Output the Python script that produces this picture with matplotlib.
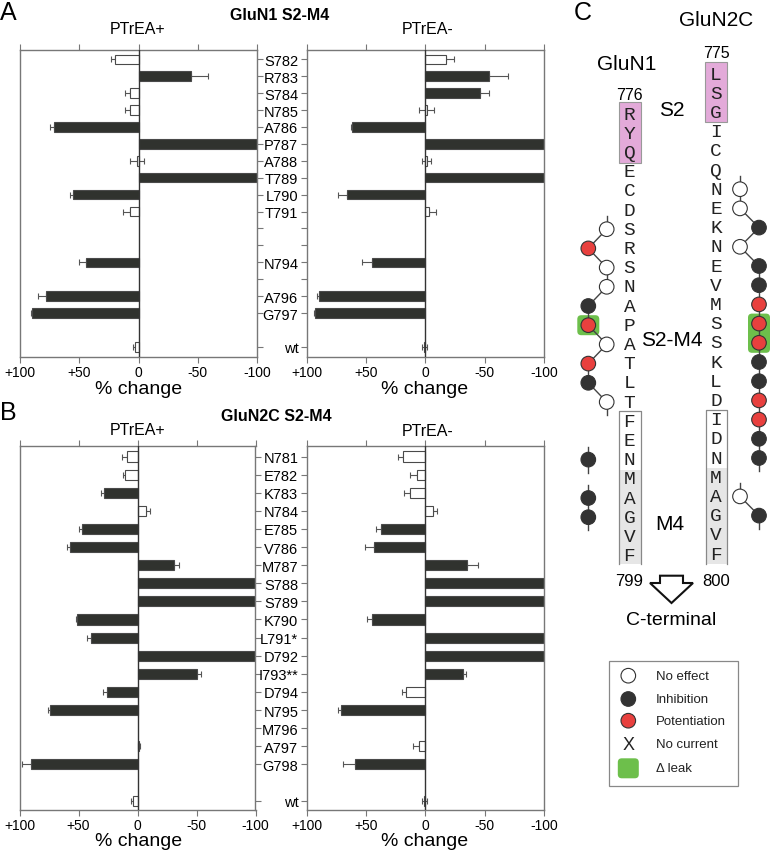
import numpy as np
import matplotlib
matplotlib.use('Agg')
import matplotlib.pyplot as plt
from matplotlib.patches import Circle, Rectangle, FancyBboxPatch, Polygon

plt.rcParams['font.family'] = ['Liberation Sans', 'DejaVu Sans']

W, H = 770, 853
nan = np.nan

# ---------------- data ----------------
xtick_vals = [100, 50, 0, -50, -100]
xtick_labels = ['+100', '+50', '0', '-50', '-100']

# Panel A : GluN1 S2-M4
a_labels = ['S782', 'R783', 'S784', 'N785', 'A786', 'P787', 'A788', 'T789', 'L790',
            'T791', '', '', 'N794', '', 'A796', 'G797', 'wt']
a_plus = [20, -44, 7, 7, 71, -100, 1, -100, 55, 7, nan, nan, 44, nan, 78, 90, 3]
a_plus_err = [3, 15, 4, 4, 3.5, 0, 6, 0, 3, 6, nan, nan, 6, nan, 7, 1, 2]
a_plus_sig = [0, 1, 0, 0, 1, 1, 0, 1, 1, 0, 0, 0, 1, 0, 1, 1, 0]
a_minus = [-17, -54, -46, -1, 62, -100, -1, -100, 66, -3, nan, nan, 45, nan, 90, 93, 1]
a_minus_err = [7, 16, 8, 6, 1, 0, 4, 0, 8, 6, nan, nan, 8, nan, 1, 1, 2]
a_minus_sig = [0, 1, 1, 0, 1, 1, 0, 1, 1, 0, 0, 0, 1, 0, 1, 1, 0]

# Panel B : GluN2C S2-M4
b_labels = ['N781', 'E782', 'K783', 'N784', 'E785', 'V786', 'M787', 'S788', 'S789',
            'K790', 'L791*', 'D792', 'I793**', 'D794', 'N795', 'M796', 'A797', 'G798', 'wt']
b_plus = [9, 11, 28, -7, 47, 57, -31, -100, -100, 51, 39, -100, -50, 26, 74, nan, -1, 90, 3.5]
b_plus_err = [4, 1.5, 3, 3.5, 3, 3, 4, 0, 0, 1, 4, 0, 4, 3, 1.5, nan, 1, 8, 2]
b_plus_sig = [0, 0, 1, 0, 1, 1, 1, 1, 1, 1, 1, 1, 1, 1, 1, 0, 0, 1, 0]
b_minus = [19, 7, 13, -6.5, 37, 43, -35, -100, -100, 45, -100, -100, -32, 16, 71.5, nan, 5, 59, 1]
b_minus_err = [4, 6, 5, 3, 5, 8, 9, 0, 0, 4, 0, 0, 2, 4, 2, nan, 5, 10, 2]
b_minus_sig = [0, 0, 0, 0, 1, 1, 1, 1, 1, 1, 1, 1, 1, 0, 1, 0, 0, 1, 0]

# Panel C : sequences and effects
n1_seq = "RYQECDSRSNAPATLTFENMAGVF"
n1_start = 776
n2_seq = "LSGICQNEKNEVMSSKLDIDNMAGVF"
n2_start = 775
n1_res = list(range(782, 798))
n1_eff = ['none', 'pot', 'none', 'none', 'inh', 'pot', 'none', 'pot', 'inh', 'none',
          '', '', 'inh', '', 'inh', 'inh']
n1_leak = [787]
n2_res = list(range(781, 799))
n2_eff = ['none', 'none', 'inh', 'none', 'inh', 'inh', 'pot', 'pot', 'pot', 'inh', 'inh',
          'pot', 'pot', 'inh', 'inh', '', 'none', 'inh']
n2_leak = [788, 789]
legend_items = ['No effect', 'Inhibition', 'Potentiation', 'No current', '\u0394 leak']

# ---------------- styles ----------------
DARK = '#30322e'
SPINE = '#777777'
RED = '#e8403e'
BLK = '#333333'
GREEN = '#6dbf4b'
PINK = '#e3aad9'

fig = plt.figure(figsize=(W / 100, H / 100), dpi=100)


def rect(x0, y0, x1, y1):
    return [x0 / W, 1 - y1 / H, (x1 - x0) / W, (y1 - y0) / H]


def ftext(x, y, s, **kw):
    kw.setdefault('ha', 'center')
    kw.setdefault('va', 'center')
    fig.text(x / W, 1 - y / H, s, **kw)


def bar_axes(r, pos, ylim, labels, vals, errs, sig, side):
    ax = fig.add_axes(r)
    for p, v, e, s in zip(pos, vals, errs, sig):
        if np.isnan(v):
            continue
        ax.barh(p, v, height=0.56, color=DARK if s else 'white',
                edgecolor='#4a4a4a', linewidth=0.8, zorder=2)
        if e > 0:
            if abs(v) < 3:
                xe = [[e], [e]]
            elif v > 0:
                xe = [[0], [e]]
            else:
                xe = [[e], [0]]
            ax.errorbar(v, p, xerr=xe, fmt='none', ecolor='#555555', elinewidth=0.8,
                        capsize=2, capthick=0.8, zorder=1)
    ax.set_xlim(100, -100)
    ax.set_ylim(*ylim)
    ax.set_xticks(xtick_vals)
    ax.set_xticklabels(xtick_labels, fontsize=10)
    ax.tick_params(axis='x', top=True, bottom=True, direction='out', length=4,
                   width=0.8, color=SPINE, pad=2)
    ax.set_yticks(pos)
    if side == 'right':
        ax.yaxis.tick_right()
        ax.set_yticklabels([])
    else:
        ax.set_yticklabels(labels, fontsize=10.5)
    ax.tick_params(axis='y', direction='out', length=4, width=0.8, color=SPINE, pad=2)
    for sp in ax.spines.values():
        sp.set_color(SPINE)
        sp.set_linewidth(1)
    ax.axvline(0, color='#333333', lw=1, zorder=3)
    return ax


a_pos = list(range(16)) + [17]
b_pos = list(range(18)) + [19]
a_ylim = (17.6, -0.55)
b_ylim = (19.52, -0.58)

bar_axes(rect(20, 51, 257, 358), a_pos, a_ylim, a_labels, a_plus, a_plus_err, a_plus_sig, 'right')
bar_axes(rect(306.7, 51, 544, 358), a_pos, a_ylim, a_labels, a_minus, a_minus_err, a_minus_sig, 'left')
bar_axes(rect(19.5, 447, 255.5, 811), b_pos, b_ylim, b_labels, b_plus, b_plus_err, b_plus_sig, 'right')
bar_axes(rect(306.7, 447, 544, 811), b_pos, b_ylim, b_labels, b_minus, b_minus_err, b_minus_sig, 'left')

# texts for panels A, B
ftext(8, 13, 'A', fontsize=18)
ftext(8, 413, 'B', fontsize=18)
ftext(280, 16, 'GluN1 S2-M4', fontsize=11.5, fontweight='bold')
ftext(276, 417, 'GluN2C S2-M4', fontsize=11.5, fontweight='bold')
ftext(138, 30, 'PTrEA+', fontsize=11.5)
ftext(428, 30, 'PTrEA-', fontsize=11.5)
ftext(138, 431, 'PTrEA+', fontsize=11.5)
ftext(428, 432, 'PTrEA-', fontsize=11.5)
for xc in (139, 425):
    ftext(xc, 394, '% change', fontsize=14, va='baseline')
    ftext(xc, 846, '% change', fontsize=14, va='baseline')

# ---------------- panel C ----------------
axc = fig.add_axes(rect(560, 0, 770, 853))
axc.set_xlim(560, 770)
axc.set_ylim(853, 0)
axc.axis('off')

STEP = 19.2
n1_x, n2_x = 629.5, 716
n1_y0, n2_y0 = 115, 75


def n1_y(r):
    return n1_y0 + STEP * (r - n1_start)


def n2_y(r):
    return n2_y0 + STEP * (r - n2_start)


# pink S2 boxes
axc.add_patch(Rectangle((619.3, 103.3), 21.4, 60.7, facecolor=PINK, edgecolor='#999999', lw=0.8, zorder=1))
axc.add_patch(Rectangle((705.2, 63.3), 21.4, 59.4, facecolor=PINK, edgecolor='#999999', lw=0.8, zorder=1))
# M4 boxes
for x0, ytop, yfill in ((619.3, 412, 470.5), (705.7, 411, 469)):
    axc.add_patch(Rectangle((x0, yfill), 21.4, 565 - yfill, facecolor='#e6e6e6', edgecolor='none', zorder=1))
    axc.plot([x0, x0, x0 + 21.4, x0 + 21.4], [565, ytop, ytop, 565], color='#888888', lw=0.9, zorder=1.5)

for i, ch in enumerate(n1_seq):
    axc.text(n1_x, n1_y(n1_start + i), ch, family='Liberation Mono', fontsize=14,
             ha='center', va='center', color='#222222', zorder=2)
for i, ch in enumerate(n2_seq):
    axc.text(n2_x, n2_y(n2_start + i), ch, family='Liberation Mono', fontsize=14,
             ha='center', va='center', color='#222222', zorder=2)

FACE = {'none': 'white', 'inh': BLK, 'pot': RED}
R = 7.3
STICK = 13


def draw_chain(res, eff, leak, yfun, x_none, x_eff):
    pts = {}
    for r, e in zip(res, eff):
        if e:
            pts[r] = (x_none if e == 'none' else x_eff, yfun(r), e)
    # leak highlights (group consecutive)
    lk = sorted(leak)
    groups = []
    for r in lk:
        if groups and r == groups[-1][-1] + 1:
            groups[-1].append(r)
        else:
            groups.append([r])
    for g in groups:
        x = pts[g[0]][0]
        y0, y1 = yfun(g[0]) - 10, yfun(g[-1]) + 10
        axc.add_patch(FancyBboxPatch((x - 11, y0), 22, y1 - y0,
                                     boxstyle='round,pad=0,rounding_size=4',
                                     facecolor=GREEN, edgecolor='none', zorder=1))
    for r, (x, y, e) in pts.items():
        if r + 1 in pts:
            x2, y2, _ = pts[r + 1]
            axc.plot([x, x2], [y, y2], color='#444444', lw=1, zorder=2)
        else:
            axc.plot([x, x], [y, y + STICK], color='#444444', lw=1, zorder=2)
        if r - 1 not in pts:
            axc.plot([x, x], [y, y - STICK], color='#444444', lw=1, zorder=2)
        axc.add_patch(Circle((x, y), R, facecolor=FACE[e], edgecolor='#333333', lw=0.8, zorder=3))


draw_chain(n1_res, n1_eff, n1_leak, n1_y, 606.7, 588.3)
draw_chain(n2_res, n2_eff, n2_leak, n2_y, 740, 759)

ftext(583, 13, 'C', fontsize=18)
ftext(715.7, 21, 'GluN2C', fontsize=15)
ftext(626.7, 65, 'GluN1', fontsize=15)
ftext(716.7, 53.5, '775', fontsize=11.5)
ftext(629.5, 95, '776', fontsize=11.5)
ftext(672, 111, 'S2', fontsize=15)
ftext(672, 341, 'S2-M4', fontsize=15)
ftext(670, 525, 'M4', fontsize=15)
ftext(629.5, 581, '799', fontsize=12)
ftext(716, 581, '800', fontsize=12)
ftext(670.7, 621, 'C-terminal', fontsize=14)

# arrow
axc.add_patch(Polygon([(660, 576.7), (683, 576.7), (683, 584), (693, 584), (671.5, 604),
                       (650, 584), (660, 584)], closed=True, facecolor='white',
                      edgecolor='#111111', lw=1.5, zorder=2))

# legend
axc.add_patch(Rectangle((609.3, 661.7), 129, 125, facecolor='white', edgecolor='#888888', lw=0.9, zorder=1))
ly = [676.7, 700, 721.7, 745, 769.3]
axc.add_patch(Circle((628.3, ly[0]), R, facecolor='white', edgecolor='#333333', lw=0.8, zorder=3))
axc.add_patch(Circle((628.3, ly[1]), R, facecolor=BLK, edgecolor='#333333', lw=0.8, zorder=3))
axc.add_patch(Circle((628.3, ly[2]), R, facecolor=RED, edgecolor='#333333', lw=0.8, zorder=3))
axc.text(628.3, ly[3], 'X', fontsize=13, ha='center', va='center', color='#222222')
axc.add_patch(FancyBboxPatch((617.8, ly[4] - 10), 21, 20, boxstyle='round,pad=0,rounding_size=4',
                             facecolor=GREEN, edgecolor='none', zorder=2))
for y, s in zip(ly, legend_items):
    axc.text(656, y, s, fontsize=9.5, ha='left', va='center', color='#222222')

fig.savefig('out.png', dpi=100)
